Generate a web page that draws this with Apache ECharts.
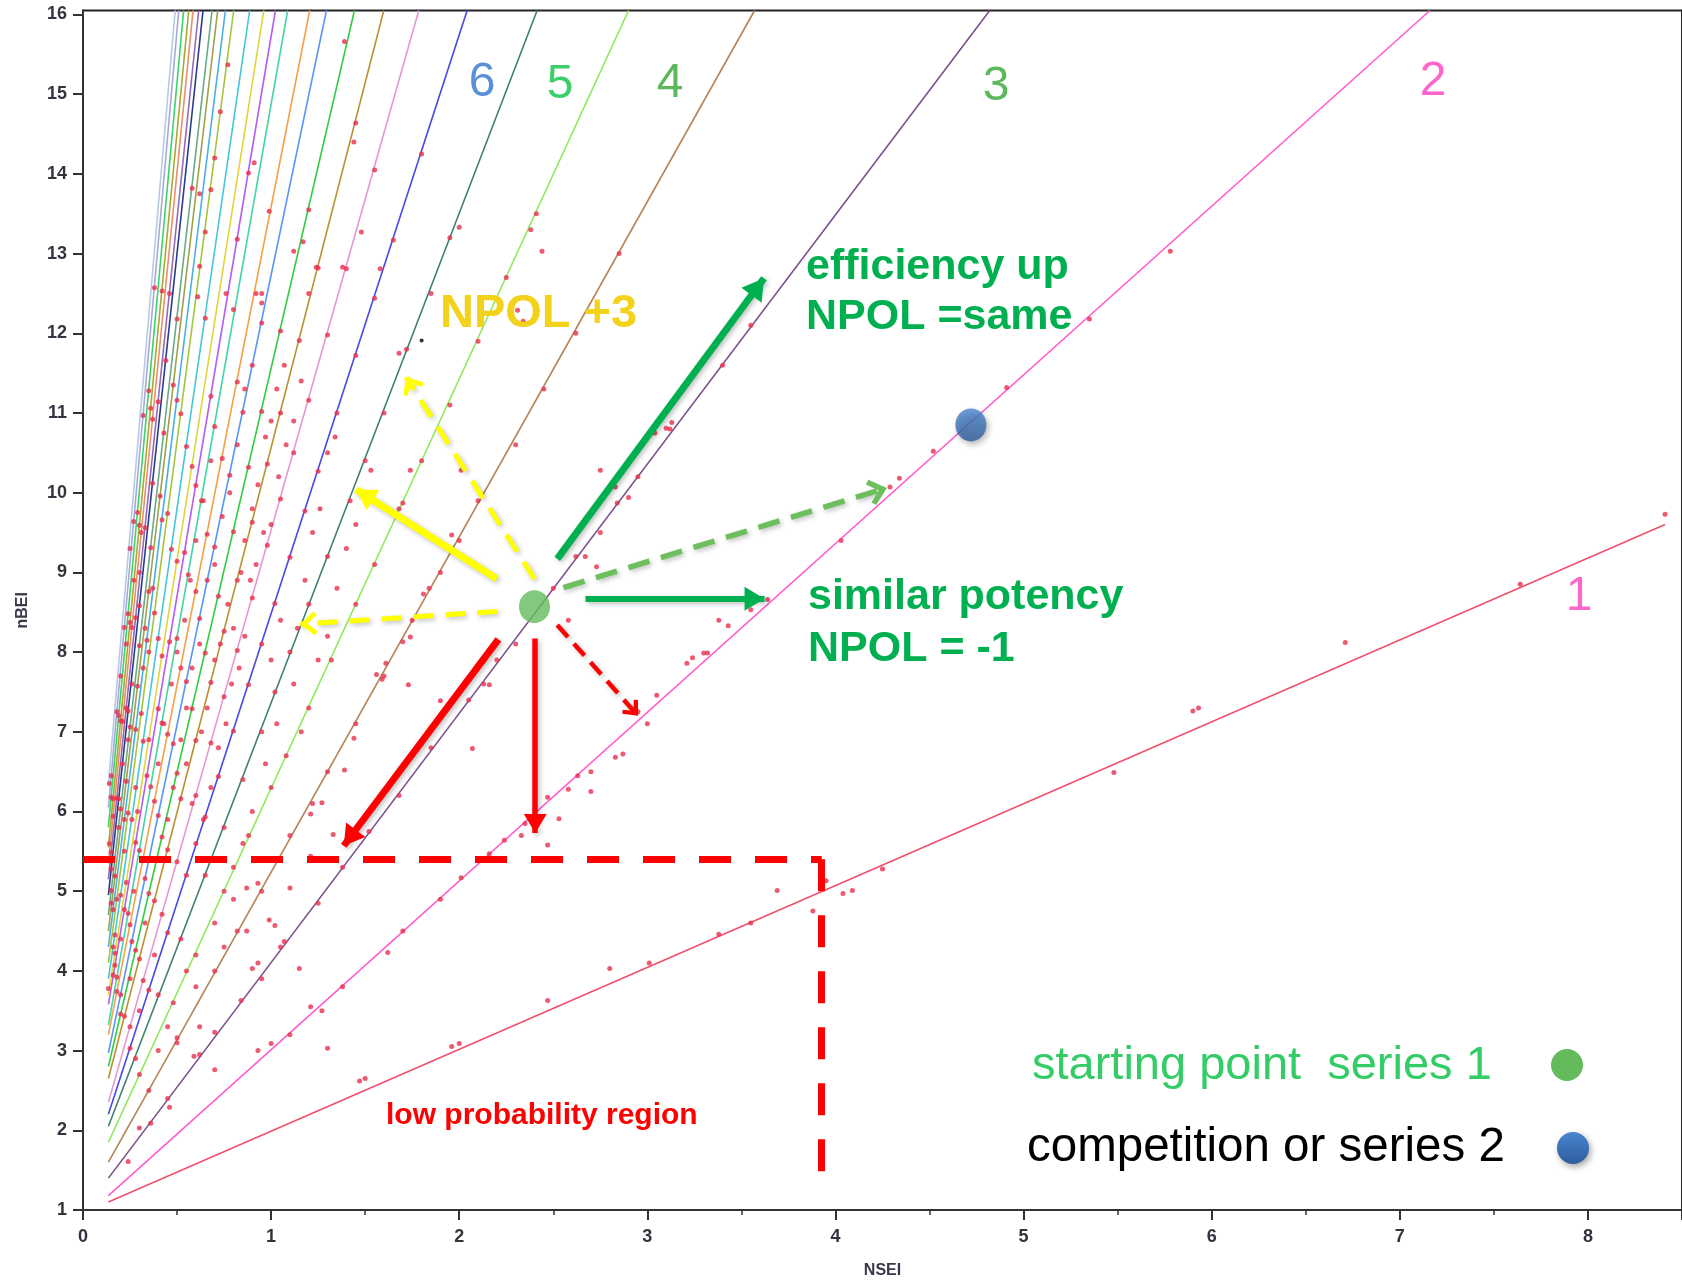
<!DOCTYPE html>
<html>
<head>
<meta charset="utf-8">
<title>NPOL lines NSEI vs nBEI</title>
<script src="https://cdn.jsdelivr.net/npm/echarts@6/dist/echarts.min.js"></script>
<style>
  html, body { margin: 0; padding: 0; background: #fff; }
  #nsei-chart { width: 1682px; height: 1284px; }
</style>
</head>
<body>
<div id="nsei-chart"></div>
<script>
// iso-NPOL lines: start at NSEI 0.135, end at top of plot (line 1 ends at right side)
const npolLines = [1, 2, 3, 4, 5, 6, 7, 8, 9, 10, 11, 12, 13, 14, 15, 16, 17, 18, 19, 20, 21, 22, 23, 24, 25, 26, 27];
const lineStartX = 0.135;
const lineStartY = [1.10, 1.18, 1.40, 1.60, 1.85, 2.05, 2.20, 2.35, 2.65, 2.80, 2.97, 3.20, 3.32, 3.58, 3.70,
  3.90, 4.10, 4.30, 4.50, 4.70, 4.95, 5.15, 5.35, 5.55, 5.80, 6.05, 6.35];
const lineEndX = [8.41, 7.16, 4.82, 3.57, 2.90, 2.414, 2.042, 1.785, 1.599, 1.443, 1.294, 1.205, 1.088, 1.023, 0.961,
  0.886, 0.801, 0.757, 0.716, 0.686, 0.638, 0.615, 0.585, 0.562, 0.535, 0.509, 0.490];
const lineEndY = [9.60, 16.05, 16.05, 16.05, 16.05, 16.05, 16.05, 16.05, 16.05, 16.05, 16.05, 16.05, 16.05, 16.05, 16.05,
  16.05, 16.05, 16.05, 16.05, 16.05, 16.05, 16.05, 16.05, 16.05, 16.05, 16.05, 16.05];

// compounds (NSEI, nBEI), grouped by the line they sit near
const ptsLine1 = [[1.47, 2.62], [1.50, 2.65], [1.96, 3.05], [2.00, 3.09], [2.47, 3.63], [2.80, 4.03], [3.01, 4.10],
  [3.38, 4.46], [3.55, 4.60], [3.69, 5.01], [3.88, 4.75], [3.95, 5.13], [4.04, 4.97], [4.09, 5.01], [4.25, 5.28],
  [5.48, 6.49], [5.90, 7.26], [5.93, 7.30], [6.71, 8.12], [7.64, 8.85], [8.41, 9.73]];
const ptsLine2 = [[0.93, 3.00], [1.00, 3.09], [1.10, 3.20], [1.21, 3.55], [1.27, 3.50], [1.38, 3.80], [1.62, 4.23],
  [1.70, 4.50], [1.90, 4.90], [2.01, 5.17], [2.16, 5.47], [2.24, 5.64], [2.35, 5.85], [2.47, 6.18], [2.58, 6.28],
  [2.63, 6.45], [2.70, 6.50], [2.83, 6.68], [2.95, 7.25], [3.00, 7.10], [3.05, 7.46], [3.21, 7.86], [3.32, 7.99],
  [3.43, 8.33], [3.55, 8.53], [3.64, 8.66], [4.03, 9.40], [4.29, 10.07], [4.34, 10.18], [4.52, 10.52],
  [4.91, 11.32], [5.35, 12.18], [5.78, 13.03]];
const ptsLine3 = [[0.24, 1.61], [0.30, 2.03], [0.45, 2.40], [0.46, 2.29], [0.62, 2.95], [0.59, 2.93], [0.95, 3.90],
  [1.05, 4.30], [1.25, 4.85], [1.38, 5.30], [1.52, 5.75], [1.68, 6.20], [1.85, 6.80], [2.05, 7.40], [2.20, 7.90],
  [2.30, 8.10], [2.50, 8.80], [2.62, 9.20], [2.75, 9.50], [2.95, 10.20], [3.12, 10.80], [3.40, 11.60], [3.55, 12.10]];
const ptsLine4 = [[0.35, 2.50], [0.50, 3.10], [0.70, 4.00], [0.82, 4.50], [0.95, 5.00], [1.10, 5.70], [1.22, 6.10],
  [1.30, 6.50], [1.45, 7.10], [1.60, 7.70], [1.75, 8.40], [1.90, 9.00], [2.00, 9.40], [2.10, 9.90], [2.30, 10.60],
  [2.45, 11.30], [2.62, 12.00], [2.85, 13.00]];
const ptsLine5to8 = [[0.30, 2.70], [0.48, 3.60], [0.60, 4.20], [0.75, 5.00], [0.88, 5.70], [1.00, 6.30], [1.08, 6.70],
  [1.20, 7.30], [1.32, 7.90], [1.45, 8.60], [1.55, 9.10], [1.68, 9.80], [1.80, 10.40], [1.95, 11.10], [2.10, 11.90],
  [2.25, 12.70], [2.38, 13.30],
  [0.28, 2.90], [0.40, 3.70], [0.52, 4.40], [0.65, 5.20], [0.75, 5.80], [0.85, 6.40], [0.95, 7.00], [1.02, 7.50],
  [1.10, 8.00], [1.20, 8.60], [1.30, 9.20], [1.42, 9.90], [1.50, 10.40], [1.60, 11.00], [1.72, 11.80], [1.85, 12.50],
  [1.95, 13.20],
  [0.25, 3.03], [0.35, 3.76], [0.45, 4.48], [0.55, 5.20], [0.65, 5.93], [0.72, 6.44], [0.80, 7.01], [0.88, 7.59],
  [0.95, 8.10], [1.02, 8.61], [1.10, 9.19], [1.18, 9.77], [1.25, 10.27], [1.35, 11.00], [1.45, 11.72], [1.55, 12.44],
  [1.65, 13.17], [1.80, 14.25],
  [0.25, 3.30], [0.32, 3.88], [0.42, 4.71], [0.50, 5.37], [0.60, 6.20], [0.68, 6.86], [0.75, 7.44], [0.82, 8.02],
  [0.90, 8.68], [0.98, 9.34], [1.05, 9.92], [1.12, 10.50], [1.20, 11.16], [1.30, 11.98], [1.40, 12.81], [1.55, 14.05]];
const ptsLine9to15 = [[0.22, 3.43], [0.30, 4.15], [0.38, 4.88], [0.45, 5.52], [0.52, 6.16], [0.60, 6.89], [0.68, 7.62],
  [0.75, 8.26], [0.82, 8.90], [0.90, 9.63], [0.98, 10.36], [1.05, 11.00], [1.15, 11.91], [1.25, 12.82], [1.45, 14.64],
  [0.20, 3.46], [0.28, 4.26], [0.35, 4.97], [0.42, 5.68], [0.50, 6.48], [0.58, 7.29], [0.65, 7.99], [0.72, 8.70],
  [0.80, 9.51], [0.88, 10.32], [0.95, 11.02], [1.05, 12.03], [1.20, 13.55],
  [0.20, 3.70], [0.26, 4.37], [0.33, 5.16], [0.40, 5.95], [0.48, 6.85], [0.55, 7.63], [0.62, 8.42], [0.70, 9.32],
  [0.78, 10.22], [0.85, 11.01], [0.95, 12.13],
  [0.18, 3.74], [0.25, 4.58], [0.32, 5.41], [0.38, 6.13], [0.45, 6.97], [0.52, 7.80], [0.60, 8.76], [0.66, 9.48],
  [0.74, 10.43], [0.82, 11.39],
  [0.18, 3.92], [0.24, 4.72], [0.30, 5.51], [0.36, 6.31], [0.42, 7.11], [0.50, 8.17], [0.56, 8.97], [0.63, 9.90],
  [0.70, 10.83],
  [0.17, 4.07], [0.22, 4.77], [0.28, 5.61], [0.34, 6.45], [0.40, 7.29], [0.46, 8.13], [0.54, 9.25], [0.60, 10.09],
  [0.68, 11.21], [0.88, 14.01],
  [0.17, 4.22], [0.23, 5.11], [0.29, 6.00], [0.35, 6.90], [0.42, 7.95], [0.50, 9.14], [0.58, 10.33]];
const ptsSteepLines = [[0.16, 4.30], [0.20, 4.95], [0.26, 5.90], [0.32, 6.88], [0.40, 8.17], [0.47, 9.29], [0.55, 10.58],
  [0.65, 12.19], [0.18, 4.90], [0.24, 5.98], [0.31, 7.23], [0.38, 8.49], [0.45, 9.74], [0.52, 10.99],
  [0.16, 4.77], [0.22, 5.90], [0.28, 7.03], [0.34, 8.15], [0.42, 9.66], [0.50, 11.16],
  [0.17, 5.19], [0.23, 6.38], [0.29, 7.57], [0.35, 8.76], [0.41, 9.96], [0.48, 11.35],
  [0.15, 5.01], [0.20, 6.03], [0.25, 7.06], [0.30, 8.08], [0.36, 9.31], [0.43, 10.75], [0.50, 12.18], [0.58, 13.82],
  [0.15, 5.28], [0.19, 6.16], [0.24, 7.26], [0.30, 8.58], [0.37, 10.12], [0.44, 11.66],
  [0.15, 5.49], [0.18, 6.17], [0.23, 7.30], [0.28, 8.43], [0.33, 9.56], [0.40, 11.14], [0.46, 12.50],
  [0.16, 5.94], [0.21, 7.13], [0.26, 8.31], [0.31, 9.50], [0.37, 10.92],
  [0.16, 6.16], [0.20, 7.14], [0.25, 8.37], [0.30, 9.59], [0.36, 11.06], [0.42, 12.53],
  [0.15, 6.18], [0.19, 7.20], [0.24, 8.48], [0.29, 9.75], [0.35, 11.28],
  [0.15, 6.45], [0.18, 7.25], [0.22, 8.31], [0.27, 9.64], [0.32, 10.97], [0.38, 12.57],
  [0.135, 3.78], [0.14, 6.35], [0.15, 4.85], [0.16, 3.95], [0.17, 4.45], [0.14, 5.60]];
const ptsDenseBand = [[0.55, 6.6], [0.58, 6.1], [0.63, 7.0], [0.66, 7.3], [0.70, 7.9], [0.73, 8.1], [0.77, 8.6],
  [0.80, 8.3], [0.84, 9.0], [0.86, 9.4], [0.90, 9.8], [0.93, 10.1], [0.97, 10.7], [1.00, 10.9], [1.03, 11.3],
  [1.07, 11.6], [0.60, 5.6], [0.64, 5.9], [0.68, 6.3], [0.72, 6.8], [0.76, 7.1], [0.79, 7.6], [0.83, 7.8], [0.86, 8.2],
  [0.89, 8.9], [0.92, 9.1], [0.96, 9.5], [1.00, 9.6], [1.04, 10.2], [1.08, 10.6], [1.12, 10.9], [1.16, 11.4],
  [0.45, 5.9], [0.48, 6.3], [0.52, 6.9], [0.55, 7.3], [0.58, 7.8], [0.62, 8.1], [0.66, 8.9], [0.70, 9.1], [0.74, 9.7],
  [0.78, 10.0], [0.82, 10.6], [0.86, 11.3], [0.90, 11.6], [0.40, 6.6], [0.43, 7.1], [0.47, 7.6], [0.50, 8.0],
  [0.54, 8.4], [0.57, 8.9], [0.60, 9.4], [0.64, 9.9], [0.68, 10.4], [1.14, 8.3], [1.18, 8.9], [1.22, 9.5],
  [1.26, 9.8], [1.30, 10.5], [1.34, 10.7], [1.00, 7.9], [1.05, 8.4], [1.12, 7.6], [1.16, 7.0], [1.25, 7.9],
  [1.30, 8.2], [1.35, 8.8], [1.40, 9.3], [1.45, 9.6], [0.80, 5.3], [0.85, 5.6], [0.90, 6.0], [0.97, 6.6], [1.03, 7.1],
  [0.70, 4.6], [0.75, 4.3], [0.80, 4.9], [0.60, 3.8], [0.55, 4.0], [0.45, 3.3], [0.40, 3.0], [0.38, 4.2], [0.33, 4.6],
  [0.30, 3.5], [0.25, 3.9], [0.27, 5.0], [0.22, 5.5], [0.20, 4.4], [0.19, 5.8], [0.21, 6.6], [0.24, 6.9], [0.26, 7.6],
  [0.28, 6.3], [0.32, 7.8], [0.35, 8.0], [0.37, 8.8], [0.33, 8.3], [0.30, 9.0], [0.27, 8.9], [0.25, 9.3], [0.23, 8.1],
  [0.20, 7.7]];
const ptsUpper = [[0.77, 15.37], [0.73, 14.78], [0.70, 14.20], [0.68, 13.80], [0.65, 13.27], [0.62, 12.84],
  [0.61, 12.46], [0.62, 13.75], [0.91, 14.14], [0.99, 13.53], [0.82, 13.18], [1.12, 13.03], [1.17, 13.15],
  [1.39, 15.66], [1.44, 14.40], [1.48, 13.27], [1.58, 12.81], [1.38, 12.83], [1.24, 12.83], [1.20, 12.50],
  [0.92, 12.50], [0.95, 12.50], [0.76, 12.50], [0.95, 12.38], [0.80, 12.30]];
const ptsScattered = [[1.68, 11.75], [1.53, 10.28], [1.70, 9.87], [1.74, 10.28], [1.96, 9.47], [2.01, 10.28],
  [2.41, 13.50], [2.44, 13.03], [2.00, 13.33], [2.31, 12.29], [2.34, 12.15], [3.10, 10.81], [3.13, 10.88],
  [3.04, 10.75], [2.84, 9.87], [2.83, 10.07], [2.90, 9.94], [2.75, 10.28], [2.58, 8.40], [2.67, 9.20], [2.73, 9.07],
  [3.30, 7.99], [3.24, 7.93], [3.38, 8.40], [2.70, 6.25], [2.87, 6.72], [2.53, 5.91], [2.40, 5.85], [2.33, 5.70],
  [2.47, 5.58], [2.07, 6.79], [2.16, 7.59], [2.13, 7.60], [1.90, 7.39], [1.73, 7.59], [1.70, 8.13], [1.74, 8.19],
  [1.84, 8.80], [1.81, 8.73], [1.61, 7.86], [1.56, 7.72], [1.59, 7.66], [1.44, 6.92], [1.39, 6.52], [1.27, 6.11],
  [1.21, 5.97], [1.21, 5.44], [1.33, 5.71], [1.10, 5.04], [0.99, 4.64], [1.02, 4.57], [1.07, 4.37], [1.15, 4.03],
  [0.93, 4.10], [0.90, 4.03], [0.84, 3.63], [0.70, 3.23], [0.62, 3.30], [0.70, 2.76], [0.36, 2.09], [0.50, 3.16],
  [0.87, 4.50], [1.30, 3.03], [0.87, 5.04], [0.93, 5.10]];
const ptsBlack = [[1.80, 11.91]];

const startPoint = [[2.40, 8.57]];   // series 1
const competitor = [[4.72, 10.85]];  // series 2

// annotation arrows (data coords)
const arrowStart = [[2.521, 9.17], [2.671, 8.67], [2.554, 8.81], [2.199, 8.92], [2.40, 8.92], [2.201, 8.51],
  [2.208, 8.16], [2.404, 8.17], [2.521, 8.34]];
const arrowEnd = [[3.62, 12.69], [3.623, 8.67], [4.273, 10.06], [1.452, 10.04], [1.717, 11.45], [1.155, 8.35],
  [1.386, 5.57], [2.404, 5.73], [2.951, 7.20]];
// low probability box
const boxCorner = [3.927, 5.40];
const boxBottom = 1.2;

const lineColors = ['#f0506e', '#ff5ccd', '#7b4f8e', '#b4845a', '#8ee85a', '#3f7f72', '#4848e6', '#e497d2', '#bb9133',
  '#33cc44', '#5a96f5', '#f5a04a', '#44d4a8', '#b45cf5', '#e0d43a', '#44c6d8', '#a6c43a', '#48aee6', '#a0a048',
  '#6aa888', '#283c8c', '#9468b8', '#e8906a', '#a8a834', '#3ad46a', '#a8a8d8', '#b8c8e8'];

const HEAD = 'path://M10,10 L16,20 L4,20 Z M0,0 L0.01,0 L0,0.01 Z M20,0 L19.99,0 L20,0.01 Z';
const CHEVRON = 'path://M10,10 L17,18 L15,20 L10,14.5 L5,20 L3,18 Z M0,0 L0.01,0 L0,0.01 Z M20,0 L19.99,0 L20,0.01 Z';
const arrowLook = [
  { color: '#00b050', width: 7, dash: 'solid', head: HEAD, size: 42 },
  { color: '#00b050', width: 6, dash: 'solid', head: HEAD, size: 40 },
  { color: '#6cbf5c', width: 5.5, dash: [22, 12], head: CHEVRON, size: 38 },
  { color: '#ffff00', width: 7, dash: 'solid', head: HEAD, size: 40 },
  { color: '#ffff00', width: 5, dash: [20, 12], head: CHEVRON, size: 34 },
  { color: '#ffff00', width: 5, dash: [20, 12], head: CHEVRON, size: 34 },
  { color: '#ff0000', width: 7, dash: 'solid', head: HEAD, size: 40 },
  { color: '#ff0000', width: 5.5, dash: 'solid', head: HEAD, size: 38 },
  { color: '#ff0000', width: 4.5, dash: [16, 9], head: CHEVRON, size: 30 }
];

const FONT = '"Liberation Sans", Arial, sans-serif';

const chart = echarts.init(document.getElementById('nsei-chart'));

const series = npolLines.map((n, i) => ({
  type: 'line',
  name: 'NPOL ' + n,
  data: [[lineStartX, lineStartY[i]], [lineEndX[i], lineEndY[i]]],
  symbol: 'none',
  showSymbol: false,
  silent: true,
  z: 2,
  lineStyle: { color: lineColors[i], width: 1.6 }
}));

series.push({
  type: 'scatter',
  name: 'compounds',
  data: [].concat(ptsLine1, ptsLine2, ptsLine3, ptsLine4, ptsLine5to8, ptsLine9to15, ptsSteepLines, ptsDenseBand,
    ptsUpper, ptsScattered),
  symbolSize: 5,
  itemStyle: { color: '#e8304e' },
  z: 3
});
series.push({
  type: 'scatter',
  data: ptsBlack,
  symbolSize: 4,
  itemStyle: { color: '#000' },
  z: 3
});

series.push({
  type: 'lines',
  coordinateSystem: 'cartesian2d',
  symbol: ['none', 'none'],
  silent: true,
  z: 4,
  lineStyle: { color: '#ff0000', width: 7, type: [32, 24], opacity: 1 },
  data: [
    { coords: [[0, boxCorner[1]], boxCorner] },
    { coords: [boxCorner, [boxCorner[0], boxBottom]] }
  ]
});

arrowStart.forEach((s, i) => {
  const look = arrowLook[i];
  series.push({
    type: 'lines',
    coordinateSystem: 'cartesian2d',
    symbol: ['none', look.head],
    symbolSize: look.size,
    silent: true,
    z: 5,
    lineStyle: {
      color: look.color, width: look.width, type: look.dash, opacity: 1, curveness: 0,
      shadowBlur: 5, shadowColor: 'rgba(0,0,0,0.25)', shadowOffsetX: 2, shadowOffsetY: 2
    },
    data: [{ coords: [s, arrowEnd[i]] }]
  });
});

series.push({
  type: 'scatter',
  name: 'starting point series 1',
  data: startPoint,
  symbolSize: [31, 33],
  itemStyle: { color: '#64bb5c' },
  z: 6
});
series.push({
  type: 'scatter',
  name: 'competition or series 2',
  data: competitor,
  symbolSize: [31, 33],
  itemStyle: {
    color: { type: 'linear', x: 0, y: 0, x2: 0, y2: 1,
      colorStops: [{ offset: 0, color: '#4a86d0' }, { offset: 1, color: '#2d5c9c' }] },
    shadowBlur: 6, shadowColor: 'rgba(0,0,0,0.35)', shadowOffsetX: 2, shadowOffsetY: 3
  },
  z: 6
});

function txt(text, x, y, font, fill, align) {
  return {
    type: 'text', x: x, y: y, z: 20, silent: true,
    style: { text: text, font: font, fill: fill, align: align || 'left', verticalAlign: 'middle',
      textAlign: align || 'left', textVerticalAlign: 'middle' }
  };
}

const graphics = [
  txt('6', 482, 83, '48px ' + FONT, '#5b8fd6', 'center'),
  txt('5', 560, 85, '48px ' + FONT, '#3ccf6a', 'center'),
  txt('4', 670, 84, '48px ' + FONT, '#5cb85c', 'center'),
  txt('3', 996, 87, '48px ' + FONT, '#5cb85c', 'center'),
  txt('2', 1433, 82, '48px ' + FONT, '#ff66cc', 'center'),
  txt('1', 1579, 597, '48px ' + FONT, '#ff66cc', 'center'),
  txt('NPOL +3', 440, 314, 'bold 47px ' + FONT, '#f2d21b'),
  txt('efficiency up', 806, 267, 'bold 43px ' + FONT, '#00b050'),
  txt('NPOL =same', 806, 317, 'bold 43px ' + FONT, '#00b050'),
  txt('similar potency', 808, 597, 'bold 43px ' + FONT, '#00b050'),
  txt('NPOL = -1', 808, 649, 'bold 43px ' + FONT, '#00b050'),
  txt('low probability region', 386, 1116, 'bold 30px ' + FONT, '#ff0000'),
  txt('starting point  series 1', 1032, 1066, '47px ' + FONT, '#33cc66'),
  txt('competition or series 2', 1027, 1148, '47.5px ' + FONT, '#000000'),
  { type: 'circle', z: 20, silent: true, shape: { cx: 1567, cy: 1065, r: 16 }, style: { fill: '#64bb5c' } },
  { type: 'circle', z: 20, silent: true, shape: { cx: 1573, cy: 1148, r: 16 },
    style: {
      fill: new echarts.graphic.LinearGradient(0, 0, 0, 1, [{ offset: 0, color: '#4a86d0' }, { offset: 1, color: '#2d5c9c' }]),
      shadowBlur: 6, shadowColor: 'rgba(0,0,0,0.35)', shadowOffsetX: 2, shadowOffsetY: 3
    } }
];

const axisText = { fontFamily: FONT, fontSize: 18, fontWeight: 'bold', color: '#34343f' };

chart.setOption({
  animation: false,
  backgroundColor: '#fff',
  grid: { left: 83, right: 0, top: 10.5, bottom: 71, show: true, borderColor: '#222', borderWidth: 2 },
  xAxis: {
    type: 'value', min: 0, max: 8.5, interval: 1,
    name: 'NSEI', nameLocation: 'middle', nameGap: 53,
    nameTextStyle: { fontFamily: FONT, fontSize: 16, fontWeight: 'bold', color: '#3a3a4a' },
    axisLine: { lineStyle: { color: '#333', width: 2 } },
    axisTick: { length: 10, lineStyle: { color: '#333', width: 2 } },
    minorTick: { show: true, splitNumber: 2, length: 5, lineStyle: { color: '#333', width: 1.5 } },
    axisLabel: Object.assign({ margin: 18, showMaxLabel: false }, axisText),
    splitLine: { show: false }
  },
  yAxis: {
    type: 'value', min: 1, max: 16.05, interval: 1,
    name: 'nBEI', nameLocation: 'middle', nameGap: 52, nameRotate: 90,
    nameTextStyle: { fontFamily: FONT, fontSize: 16, fontWeight: 'bold', color: '#3a3a4a' },
    axisLine: { lineStyle: { color: '#333', width: 2 } },
    axisTick: { length: 10, lineStyle: { color: '#333', width: 2 } },
    axisLabel: Object.assign({ margin: 16, showMaxLabel: false }, axisText),
    splitLine: { show: false }
  },
  series: series,
  graphic: graphics
});
</script>
</body>
</html>
